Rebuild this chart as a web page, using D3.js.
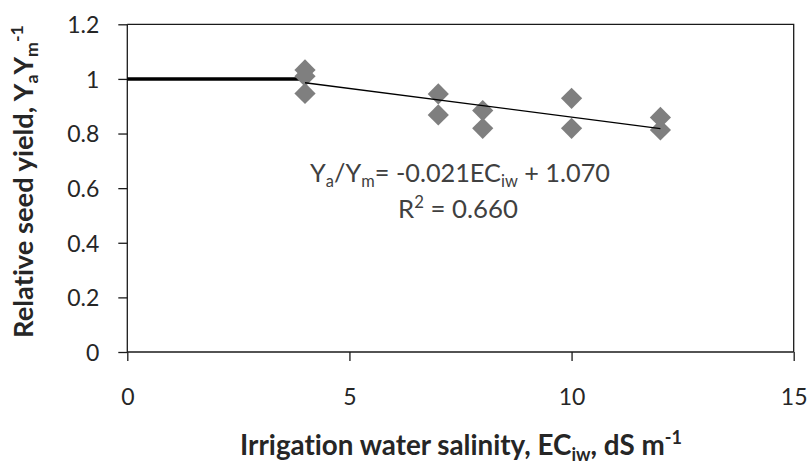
<!DOCTYPE html>
<html>
<head>
<meta charset="utf-8">
<script src="https://cdn.jsdelivr.net/npm/d3@7"></script>
<style>
  html, body { margin: 0; padding: 0; background: #fff; }
  svg { display: block; font-family: Lato, "Open Sans", sans-serif; font-variant-ligatures: none; }
</style>
</head>
<body>
<svg id="chart" width="810" height="466"></svg>
<script>
// ---- data ----
const ecIw = [4, 4, 4, 7, 7, 8, 8, 10, 10, 12, 12];
const relYield = [1.033, 1.010, 0.947, 0.945, 0.868, 0.884, 0.819, 0.929, 0.819, 0.859, 0.813];
const thresholdX = [0, 4];
const thresholdY = 1.0;
const trendSlope = -0.021;
const trendIntercept = 1.070;
const trendRange = [4, 12];
const xTicks = [0, 5, 10, 15];
const yTicks = [0, 0.2, 0.4, 0.6, 0.8, 1.0, 1.2];
const r2Text = "0.660";

// ---- layout ----
const svg = d3.select("#chart");
const pLeft = 127.3, pRight = 793.7, pTop = 24.3, pBottom = 352;
const x = d3.scaleLinear().domain([0, 15]).range([pLeft, pRight]);
const y = d3.scaleLinear().domain([0, 1.2]).range([pBottom, pTop]);
const axisColor = "#1a1a1a";
const textColor = "#262626";
const fontSize = 23;

// plot border (top & right)
svg.append("path")
  .attr("d", `M${pLeft},${pTop}H${pRight}V${pBottom}`)
  .attr("fill", "none").attr("stroke", axisColor).attr("stroke-width", 1.3);

// axes
const xAxis = d3.axisBottom(x).tickValues(xTicks).tickSize(9).tickPadding(28)
  .tickFormat(d3.format("d"));
const gx = svg.append("g").attr("transform", `translate(0,${pBottom})`).call(xAxis);
const yAxis = d3.axisLeft(y).tickValues(yTicks).tickSize(9).tickPadding(19)
  .tickFormat(d => d === 1 ? "1" : d === 0 ? "0" : d3.format(".1f")(d));
const gy = svg.append("g").attr("transform", `translate(${pLeft},0)`).call(yAxis);

gx.select(".domain").attr("d", `M${pLeft},0H${pRight}`);
gy.select(".domain").attr("d", `M0,${pBottom}V${pTop}`);
[gx, gy].forEach(g => {
  g.select(".domain").attr("stroke", axisColor).attr("stroke-width", 1.3);
  g.selectAll(".tick line").attr("stroke", axisColor).attr("stroke-width", 1.3);
  g.selectAll(".tick text").attr("fill", textColor)
    .style("font-family", "Lato, 'Open Sans', sans-serif").style("font-size", fontSize + "px");
});
gy.selectAll(".tick text").attr("dy", "0.36em");
gx.selectAll(".tick text").attr("dy", "0.71em");

// threshold line
svg.append("line")
  .attr("x1", x(thresholdX[0])).attr("x2", x(thresholdX[1]))
  .attr("y1", y(thresholdY)).attr("y2", y(thresholdY))
  .attr("stroke", "#000").attr("stroke-width", 3.5);

// points (diamonds)
const diamond = d3.symbol().type(d3.symbolSquare).size(225);
svg.append("g").selectAll("path")
  .data(ecIw.map((v, i) => ({ x: v, y: relYield[i] })))
  .join("path")
  .attr("d", diamond)
  .attr("transform", d => `translate(${x(d.x)},${y(d.y)}) rotate(45)`)
  .attr("fill", "#7f7f7f");

// trendline
svg.append("line")
  .attr("x1", x(trendRange[0])).attr("y1", y(trendIntercept + trendSlope * trendRange[0]))
  .attr("x2", x(trendRange[1])).attr("y2", y(trendIntercept + trendSlope * trendRange[1]))
  .attr("stroke", "#000").attr("stroke-width", 1.3);

// rich text helper: parts = [[text, kind]], kind: "n" normal, "sub", "sup"
function richText(parent, parts, s, attrs) {
  const t = parent.append("text").style("font-size", s + "px");
  Object.entries(attrs).forEach(([k, v]) => t.attr(k, v));
  let shift = 0;
  parts.forEach(([txt, kind]) => {
    const target = kind === "sub" ? 0.2 * s : kind === "sup" ? -0.38 * s : 0;
    const ts = t.append("tspan").attr("dy", target - shift).text(txt);
    if (kind !== "n") ts.style("font-size", (0.65 * s) + "px");
    shift = target;
  });
  return t;
}
function fitted(parent, parts, s, attrs, targetLen) {
  const t = richText(parent, parts, s, attrs);
  const len = t.node().getComputedTextLength();
  if (!len) return t;
  t.remove();
  return richText(parent, parts, s * targetLen / len, attrs);
}

// equation
fitted(svg, [["Y", "n"], ["a", "sub"], ["/Y", "n"], ["m", "sub"],
  ["= " + (trendSlope < 0 ? "-" : "") + Math.abs(trendSlope).toFixed(3) + "EC", "n"],
  ["iw", "sub"], [" + " + trendIntercept.toFixed(3), "n"]], fontSize,
  { x: 460, y: 181.7, "text-anchor": "middle", fill: "#404040" }, 300);

fitted(svg, [["R", "n"], ["2", "sup"], [" = " + r2Text, "n"]], fontSize,
  { x: 458, y: 218, "text-anchor": "middle", fill: "#404040" }, 120);

// x-axis title
fitted(svg, [["Irrigation water salinity, EC", "n"], ["iw", "sub"], [", dS m", "n"], ["-1", "sup"]],
  fontSize, { x: 461, y: 455, "text-anchor": "middle", fill: textColor, "font-weight": "bold" }, 442);

// y-axis title
fitted(svg, [["Relative seed yield, Y", "n"], ["a", "sub"], ["Y", "n"], ["m", "sub"], ["-1", "sup"]],
  fontSize, { transform: `translate(33,181.5) rotate(-90)`, "text-anchor": "middle",
  fill: textColor, "font-weight": "bold" }, 313);
</script>
</body>
</html>
